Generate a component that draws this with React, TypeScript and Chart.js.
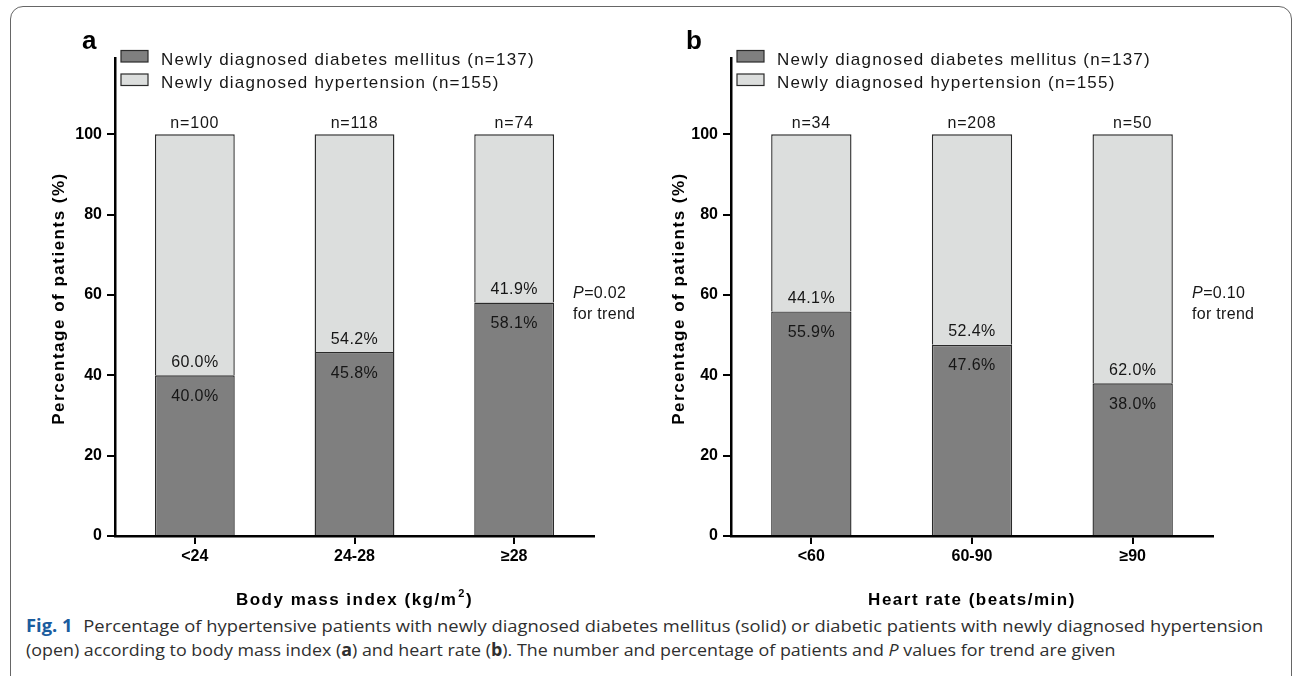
import React, { useEffect, useLayoutEffect, useRef } from "react";
import { Chart, registerables } from "chart.js";

Chart.register(...registerables);

// ---------------- data ----------------
const legendLabels = [
  "Newly diagnosed diabetes mellitus (n=137)",
  "Newly diagnosed hypertension (n=155)",
];
const yTickValues = [0, 20, 40, 60, 80, 100];
const yAxisTitle = "Percentage of patients (%)";

const bmiCategories = ["<24", "24-28", "≥28"];
const bmiDiabetes = [40.0, 45.8, 58.1];
const bmiHypertension = [60.0, 54.2, 41.9];
const bmiCounts = [100, 118, 74];
const bmiPValue = "0.02";
const bmiAxisTitle = ["Body mass index (kg/m", "2", ")"];

const hrCategories = ["<60", "60-90", "≥90"];
const hrDiabetes = [55.9, 47.6, 38.0];
const hrHypertension = [44.1, 52.4, 62.0];
const hrCounts = [34, 208, 50];
const hrPValue = "0.10";
const hrAxisTitle = ["Heart rate (beats/min)", "", ""];

const captionLine1Rest =
  "Percentage of hypertensive patients with newly diagnosed diabetes mellitus (solid) or diabetic patients with newly diagnosed hypertension";

// ---------------- styles ----------------
const FONT = '"Liberation Sans", Arial, Helvetica, sans-serif';
const CAPTION_FONT = '"Open Sans", "Noto Sans", sans-serif';
const DARK = "#7f7f7f";
const LIGHT = "#dcdedd";
const EDGE = "#2a2a2a";
const INK = "#161616";
const CANVAS_TOP = 10;

type Panel = {
  letter: string;
  categories: string[];
  diabetes: number[];
  hypertension: number[];
  counts: number[];
  pValue: string;
  axisTitle: string[];
  left: number;
  width: number;
  letterDx: number;
  yTitleDx: number;
};

const panels: Panel[] = [
  {
    letter: "a",
    categories: bmiCategories,
    diabetes: bmiDiabetes,
    hypertension: bmiHypertension,
    counts: bmiCounts,
    pValue: bmiPValue,
    axisTitle: bmiAxisTitle,
    left: 20,
    width: 620,
    letterDx: -33,
    yTitleDx: -56,
  },
  {
    letter: "b",
    categories: hrCategories,
    diabetes: hrDiabetes,
    hypertension: hrHypertension,
    counts: hrCounts,
    pValue: hrPValue,
    axisTitle: hrAxisTitle,
    left: 636,
    width: 623,
    letterDx: -45,
    yTitleDx: -52,
  },
];

function makeDecor(p: Panel) {
  return {
    id: "panelDecor",
    afterDraw(chart: any) {
      const { ctx, chartArea: ca } = chart;
      const xs = chart.scales.x;
      const ys = chart.scales.y;
      const T = (absY: number) => absY - CANVAS_TOP;
      ctx.save();
      ctx.textBaseline = "alphabetic";

      // panel letter
      ctx.fillStyle = "#000";
      ctx.font = `bold 26px ${FONT}`;
      ctx.textAlign = "left";
      ctx.fillText(p.letter, ca.left + p.letterDx, T(49));

      // legend
      legendLabels.forEach((lab, i) => {
        const top = T(50.5 + i * 23.5);
        ctx.fillStyle = i === 0 ? DARK : LIGHT;
        ctx.fillRect(ca.left + 6, top, 27, 11.5);
        ctx.strokeStyle = EDGE;
        ctx.lineWidth = 1.2;
        ctx.strokeRect(ca.left + 6, top, 27, 11.5);
        ctx.fillStyle = INK;
        ctx.font = `17px ${FONT}`;
        ctx.letterSpacing = "1.2px";
        ctx.textAlign = "left";
        ctx.fillText(lab, ca.left + 46, T(64.5 + i * 23.5));
        ctx.letterSpacing = "0px";
      });

      // n labels and percentages
      ctx.fillStyle = INK;
      ctx.textAlign = "center";
      p.categories.forEach((_, i) => {
        const cx = xs.getPixelForValue(i);
        const total = p.diabetes[i] + p.hypertension[i];
        const topPx = ys.getPixelForValue(total);
        const boundary = ys.getPixelForValue(p.diabetes[i]);
        ctx.font = `16px ${FONT}`;
        ctx.letterSpacing = "0.8px";
        ctx.fillText(`n=${p.counts[i]}`, cx, topPx - 6);
        ctx.letterSpacing = "0.4px";
        ctx.fillText(`${p.hypertension[i].toFixed(1)}%`, cx, boundary - 8.5);
        ctx.fillText(`${p.diabetes[i].toFixed(1)}%`, cx, boundary + 25.5);
        ctx.letterSpacing = "0px";
      });

      // P value
      ctx.textAlign = "left";
      const px = ca.right - 21;
      ctx.font = `italic 16px ${FONT}`;
      ctx.fillText("P", px, T(298));
      const pw = ctx.measureText("P").width;
      ctx.font = `16px ${FONT}`;
      ctx.letterSpacing = "0.3px";
      ctx.fillText(`=${p.pValue}`, px + pw + 0.5, T(298));
      ctx.fillText("for trend", px, T(318.5));
      ctx.letterSpacing = "0px";

      // x axis title
      ctx.fillStyle = "#000";
      const [t1, t2, t3] = p.axisTitle;
      ctx.letterSpacing = "1.5px";
      ctx.font = `bold 17px ${FONT}`;
      const w1 = ctx.measureText(t1).width;
      const w3 = t3 ? ctx.measureText(t3).width : 0;
      ctx.font = `bold 11px ${FONT}`;
      const w2 = t2 ? ctx.measureText(t2).width + 1 : 0;
      const cxTitle = (ca.left + ca.right) / 2;
      let sx = cxTitle - (w1 + w2 + w3) / 2;
      const base = T(605);
      ctx.font = `bold 17px ${FONT}`;
      ctx.fillText(t1, sx, base);
      sx += w1;
      if (t2) {
        ctx.font = `bold 11px ${FONT}`;
        ctx.fillText(t2, sx + 1, base - 8);
        sx += w2;
      }
      if (t3) {
        ctx.font = `bold 17px ${FONT}`;
        ctx.fillText(t3, sx, base);
      }

      // y axis title
      ctx.save();
      ctx.translate(ca.left + p.yTitleDx, T(298.5));
      ctx.rotate(-Math.PI / 2);
      ctx.textAlign = "center";
      ctx.textBaseline = "middle";
      ctx.font = `bold 17px ${FONT}`;
      ctx.letterSpacing = "1.5px";
      ctx.fillText(yAxisTitle, 0, 0);
      ctx.restore();

      ctx.restore();
    },
  };
}

function PanelChart({ panel }: { panel: Panel }) {
  const ref = useRef<HTMLCanvasElement>(null);
  useEffect(() => {
    const canvas = ref.current!;
    const tickFont = { family: FONT, size: 16, weight: "bold" as const };
    const gridCommon = {
      display: true,
      drawOnChartArea: false,
      drawTicks: true,
      tickLength: 8,
      tickWidth: 2,
      tickColor: "#000",
      color: "#000",
      lineWidth: 2,
    };
    const chart = new Chart(canvas, {
      type: "bar",
      data: {
        labels: panel.categories,
        datasets: [
          {
            label: legendLabels[0],
            data: panel.diabetes,
            backgroundColor: DARK,
            borderColor: EDGE,
            borderWidth: 1.4,
            borderSkipped: "start",
            barPercentage: 0.5,
            categoryPercentage: 1,
          },
          {
            label: legendLabels[1],
            data: panel.hypertension,
            backgroundColor: LIGHT,
            borderColor: EDGE,
            borderWidth: 1.4,
            borderSkipped: "start",
            barPercentage: 0.5,
            categoryPercentage: 1,
          },
        ],
      },
      options: {
        responsive: false,
        animation: false,
        events: [],
        layout: { padding: { left: 0, top: 48, right: 46, bottom: 0 } },
        plugins: {
          legend: { display: false },
          tooltip: { enabled: false },
        },
        scales: {
          x: {
            stacked: true,
            grid: { ...gridCommon, offset: false },
            border: { display: true, color: "#000", width: 2.5 },
            ticks: {
              color: "#000",
              font: tickFont,
              padding: 3,
              autoSkip: false,
              maxRotation: 0,
            },
            afterFit: (s: any) => {
              s.height = 74;
            },
          },
          y: {
            stacked: true,
            min: 0,
            max: 119,
            grid: gridCommon,
            border: { display: true, color: "#000", width: 2.5 },
            ticks: {
              color: "#000",
              font: tickFont,
              padding: 5,
              stepSize: 20,
            },
            afterBuildTicks: (s: any) => {
              s.ticks = yTickValues.map((v) => ({ value: v }));
            },
            afterFit: (s: any) => {
              s.width = 95;
            },
          },
        },
      },
      plugins: [makeDecor(panel)],
    } as any);
    return () => chart.destroy();
  }, [panel]);
  return (
    <canvas
      ref={ref}
      width={panel.width}
      height={600}
      style={{
        position: "absolute",
        left: panel.left,
        top: CANVAS_TOP,
        width: panel.width,
        height: 600,
      }}
    />
  );
}

export default function App() {
  const l1 = useRef<HTMLDivElement>(null);
  const l2 = useRef<HTMLDivElement>(null);
  useLayoutEffect(() => {
    if (!l1.current || !l2.current) return;
    const w1 = l1.current.scrollWidth;
    const w2 = l2.current.scrollWidth;
    const k1 = w1 > 0 ? 1237 / w1 : 1;
    const k2 = w2 > 0 ? 1090 / w2 : 1;
    l1.current.style.transform = `scaleX(${k1})`;
    l2.current.style.transform = `scaleX(${k2})`;
  }, []);

  const capStyle: React.CSSProperties = {
    position: "absolute",
    left: 26,
    whiteSpace: "nowrap",
    fontFamily: CAPTION_FONT,
    fontSize: 17,
    lineHeight: "24px",
    color: "#2f2f2f",
    transformOrigin: "0 0",
  };

  return (
    <div
      style={{
        position: "absolute",
        left: 0,
        top: 0,
        width: 1292,
        height: 676,
        overflow: "hidden",
        background: "#fff",
      }}
    >
      <div
        style={{
          position: "absolute",
          left: 10,
          top: 6,
          width: 1282,
          height: 720,
          border: "1.5px solid #666",
          borderRadius: 13,
          boxSizing: "border-box",
        }}
      />
      {panels.map((p) => (
        <PanelChart key={p.letter} panel={p} />
      ))}
      <div ref={l1} style={{ ...capStyle, top: 614 }}>
        <span style={{ color: "#1a5c9e", fontWeight: 700 }}>Fig. 1</span>
        <span style={{ display: "inline-block", width: 10 }} />
        {captionLine1Rest}
      </div>
      <div ref={l2} style={{ ...capStyle, top: 638 }}>
        (open) according to body mass index (<b>a</b>) and heart rate (<b>b</b>). The number and
        percentage of patients and <i>P</i> values for trend are given
      </div>
    </div>
  );
}
